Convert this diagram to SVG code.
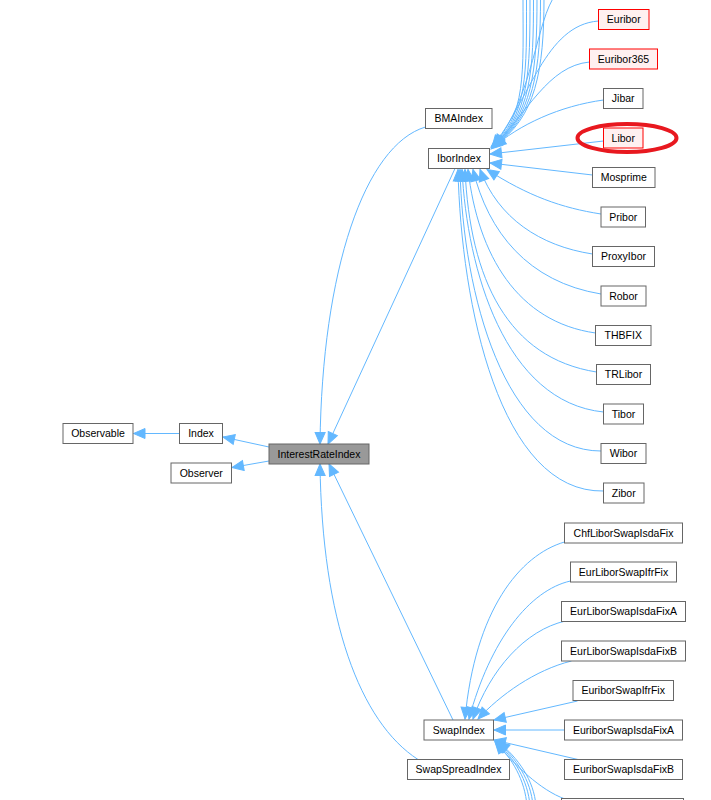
<svg xmlns="http://www.w3.org/2000/svg" width="711" height="800" viewBox="0 0 711 800">
<style>
rect{fill:#ffffff;stroke:#666666;stroke-width:1}
.red rect{fill:#fff0f0;stroke:#ff0000}
.cur rect{fill:#999999;stroke:#666666}
text{font-family:"Liberation Sans",Arial,sans-serif;font-size:10.5px;fill:#000000;text-anchor:middle}
#edges path{fill:none;stroke:#63b8ff;stroke-width:1;marker-end:url(#arr)}
</style>
<defs>
<marker id="arr" markerWidth="13" markerHeight="11" refX="12" refY="5.5" orient="auto" markerUnits="userSpaceOnUse" overflow="visible">
<path d="M0.5,0.5 L12,5.5 L0.5,10.5 Z" fill="#63b8ff" stroke="#63b8ff" stroke-width="1"/>
</marker>
</defs>
<rect x="0" y="0" width="711" height="800" style="fill:#ffffff;stroke:none"/>
<g id="edges">
<path d="M179.5,433.5 L133.5,433.5"/>
<path d="M269,447 L223,437"/>
<path d="M269,461 L232,467.5"/>
<path d="M425.5,127 C365,145 322,270 320,444"/>
<path d="M455,168.5 L328,444"/>
<path d="M453,720 L329,464"/>
<path d="M418,759.5 C360,722 322,620 320,464"/>
<path d="M523,-2 C523,70 527,118 491,147"/>
<path d="M526.5,-2 C526.5,70 528.5,118 491.5,147"/>
<path d="M530,-2 C530,70 530,118 492,146.5"/>
<path d="M533.5,-2 C533.5,70 531.5,118 492.5,146.5"/>
<path d="M537,-2 C537,70 533,118 493,146"/>
<path d="M540.5,-2 C540.5,70 534.5,118 493.5,146"/>
<path d="M544,-2 C544,70 536,118 494,146"/>
<path d="M556,-6 C536,20 534,95 494,146"/>
<path d="M598.5,21 C545,25 530,100 492,147"/>
<path d="M589.5,62 C548,66 528,112 492,148"/>
<path d="M603.5,100 C560,106 520,124 491,149"/>
<path d="M603.5,141 L490,154"/>
<path d="M592.5,175 L490,163"/>
<path d="M601,214 C562,208 528,196 487,169.5"/>
<path d="M592.5,254 C540,246 498,218 480,169.5"/>
<path d="M601,294 C528,282 488,232 473,169.5"/>
<path d="M595.5,333 C518,322 478,256 468,169.5"/>
<path d="M596.5,372 C508,358 470,280 465,169.5"/>
<path d="M603.5,412 C505,402 467,270 462,169.5"/>
<path d="M601,451 C505,451 463,295 460,169.5"/>
<path d="M603.5,491 C500,493 461,305 458,169.5"/>
<path d="M564.5,542 C520,555 475,610 465,719"/>
<path d="M570.5,581 C530,590 490,640 469,719"/>
<path d="M565.5,621 C525,630 490,670 473,719"/>
<path d="M571.5,661 C535,670 500,695 478,719"/>
<path d="M577.5,701 L494,720"/>
<path d="M564.5,730 L494,730"/>
<path d="M578,759.5 L494,740"/>
<path d="M565,799 C540,790 515,765 495,742"/>
<path d="M527,806 C525,780 512,758 495,741.5"/>
<path d="M530,806 C528,780 514,758 496,741.5"/>
<path d="M533,806 C531,780 516,758 497,741.5"/>
<path d="M536,806 C534,780 518,758 498,741.5"/>
</g>
<g id="Observable"><rect x="63" y="423.5" width="70" height="20"/><text x="98" y="437.2">Observable</text></g>
<g id="Index"><rect x="179.5" y="423.5" width="43" height="20"/><text x="201" y="437.2">Index</text></g>
<g id="Observer"><rect x="171" y="463" width="60.5" height="20"/><text x="201.25" y="476.7">Observer</text></g>
<g id="InterestRateIndex" class="cur"><rect x="269" y="444" width="100" height="20"/><text x="319" y="457.7">InterestRateIndex</text></g>
<g id="BMAIndex"><rect x="425.5" y="108.5" width="66.5" height="20"/><text x="458.75" y="122.2">BMAIndex</text></g>
<g id="IborIndex"><rect x="428.5" y="148.5" width="61" height="20"/><text x="459" y="162.2">IborIndex</text></g>
<g id="Euribor" class="red"><rect x="598.5" y="9.5" width="50.5" height="20"/><text x="623.75" y="23.2">Euribor</text></g>
<g id="Euribor365" class="red"><rect x="589.5" y="49" width="68" height="20"/><text x="623.5" y="62.7">Euribor365</text></g>
<g id="Jibar"><rect x="603.5" y="88.5" width="39.5" height="20"/><text x="623.25" y="102.2">Jibar</text></g>
<g id="Libor" class="red"><rect x="603.5" y="128" width="39.5" height="20"/><text x="623.25" y="141.7">Libor</text></g>
<g id="Mosprime"><rect x="592.5" y="167.5" width="62.5" height="20"/><text x="623.75" y="181.2">Mosprime</text></g>
<g id="Pribor"><rect x="601" y="207" width="44.5" height="20"/><text x="623.25" y="220.7">Pribor</text></g>
<g id="ProxyIbor"><rect x="592.5" y="246.5" width="62" height="20"/><text x="623.5" y="260.2">ProxyIbor</text></g>
<g id="Robor"><rect x="601" y="286" width="45" height="20"/><text x="623.5" y="299.7">Robor</text></g>
<g id="THBFIX"><rect x="595.5" y="325.5" width="55.5" height="20"/><text x="623.25" y="339.2">THBFIX</text></g>
<g id="TRLibor"><rect x="596.5" y="364.5" width="54" height="20"/><text x="623.5" y="378.2">TRLibor</text></g>
<g id="Tibor"><rect x="603.5" y="404" width="40" height="20"/><text x="623.5" y="417.7">Tibor</text></g>
<g id="Wibor"><rect x="601" y="443.5" width="45" height="20"/><text x="623.5" y="457.2">Wibor</text></g>
<g id="Zibor"><rect x="603.5" y="483" width="40.5" height="20"/><text x="623.75" y="496.7">Zibor</text></g>
<g id="ChfLiborSwapIsdaFix"><rect x="564.5" y="523" width="118" height="20"/><text x="623.5" y="536.7">ChfLiborSwapIsdaFix</text></g>
<g id="EurLiborSwapIfrFix"><rect x="570.5" y="562" width="106" height="20"/><text x="623.5" y="575.7">EurLiborSwapIfrFix</text></g>
<g id="EurLiborSwapIsdaFixA"><rect x="561.5" y="601.5" width="124" height="20"/><text x="623.5" y="615.2">EurLiborSwapIsdaFixA</text></g>
<g id="EurLiborSwapIsdaFixB"><rect x="561.5" y="641" width="124" height="20"/><text x="623.5" y="654.7">EurLiborSwapIsdaFixB</text></g>
<g id="EuriborSwapIfrFix"><rect x="573" y="680.5" width="100.5" height="20"/><text x="623.25" y="694.2">EuriborSwapIfrFix</text></g>
<g id="EuriborSwapIsdaFixA"><rect x="564.5" y="720" width="118" height="20"/><text x="623.5" y="733.7">EuriborSwapIsdaFixA</text></g>
<g id="EuriborSwapIsdaFixB"><rect x="564.5" y="759.5" width="118" height="20"/><text x="623.5" y="773.2">EuriborSwapIsdaFixB</text></g>
<g id="NextSwapNode"><rect x="561.5" y="798.5" width="122" height="20"/></g>
<g id="SwapIndex"><rect x="424" y="720" width="69.5" height="20"/><text x="458.75" y="733.7">SwapIndex</text></g>
<g id="SwapSpreadIndex"><rect x="407.5" y="759.5" width="102" height="20"/><text x="458.5" y="773.2">SwapSpreadIndex</text></g>
<ellipse cx="627" cy="138" rx="49.5" ry="14" fill="none" stroke="#e8181f" stroke-width="4"/>
</svg>
